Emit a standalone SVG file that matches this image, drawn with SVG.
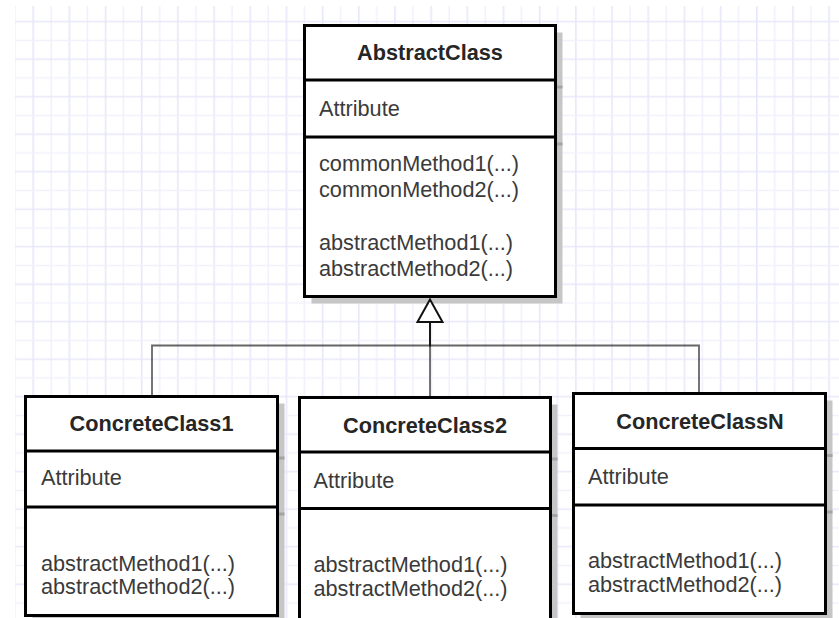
<svg xmlns="http://www.w3.org/2000/svg" width="839" height="618" viewBox="0 0 839 618">
  <defs>
    <!-- background grid: alternating light and slightly stronger lines -->
    <pattern id="grid" patternUnits="userSpaceOnUse" x="6" y="12.325" width="36.18" height="37.5">
      <line x1="9.045" y1="0" x2="9.045" y2="37.5" stroke="#f1f1fd" stroke-width="1.6"/>
      <line x1="27.135" y1="0" x2="27.135" y2="37.5" stroke="#e7e7fb" stroke-width="1.6"/>
      <line x1="0" y1="9.375" x2="36.18" y2="9.375" stroke="#e7e7fb" stroke-width="1.6"/>
      <line x1="0" y1="28.125" x2="36.18" y2="28.125" stroke="#f1f1fd" stroke-width="1.6"/>
    </pattern>
    <style>
      .box { fill: #ffffff; stroke: #000000; stroke-width: 3; }
      .divider { stroke: #000000; stroke-width: 3; }
      .shadow { fill: #c6c6c6; }
      .shadow-line { stroke: #a4a4a4; stroke-width: 3; }
      .title { font-family: "Liberation Sans", Arial, sans-serif; font-weight: bold; font-size: 21.7px; fill: #262626; text-anchor: middle; }
      .member { font-family: "Liberation Sans", Arial, sans-serif; font-size: 21.7px; fill: #3a3a3a; }
      .edge { fill: none; stroke: #000000; stroke-opacity: 0.6; stroke-width: 1.8; }
      .arrowhead { fill: #ffffff; stroke: #111111; stroke-width: 2; stroke-linejoin: miter; }
    </style>
  </defs>

  <rect width="839" height="618" fill="#ffffff"/>
  <rect x="15" y="6" width="824" height="612" fill="url(#grid)"/>

  <!-- AbstractClass -->
  <g id="abstract-class">
    <rect class="shadow" x="311.5" y="32.5" width="251" height="271"/>
    <line class="shadow-line" x1="555" y1="87" x2="562.5" y2="87"/>
    <line class="shadow-line" x1="555" y1="144" x2="562.5" y2="144"/>
    <rect class="box" x="304.5" y="25.5" width="251" height="271"/>
    <line class="divider" x1="304.5" y1="80" x2="555.5" y2="80"/>
    <line class="divider" x1="304.5" y1="137" x2="555.5" y2="137"/>
    <text class="title" x="430" y="60">AbstractClass</text>
    <text class="member" x="319" y="116">Attribute</text>
    <text class="member" x="319" y="171">commonMethod1(...)</text>
    <text class="member" x="319" y="197">commonMethod2(...)</text>
    <text class="member" x="319" y="250">abstractMethod1(...)</text>
    <text class="member" x="319" y="276">abstractMethod2(...)</text>
  </g>

  <!-- ConcreteClass1 -->
  <g id="concrete-class-1">
    <rect class="shadow" x="32.5" y="403.5" width="252" height="219"/>
    <line class="shadow-line" x1="277" y1="458" x2="284.5" y2="458"/>
    <line class="shadow-line" x1="277" y1="514" x2="284.5" y2="514"/>
    <rect class="box" x="25.5" y="396.5" width="252" height="219"/>
    <line class="divider" x1="25.5" y1="451" x2="277.5" y2="451"/>
    <line class="divider" x1="25.5" y1="507" x2="277.5" y2="507"/>
    <text class="title" x="151.5" y="431">ConcreteClass1</text>
    <text class="member" x="41" y="485">Attribute</text>
    <text class="member" x="41" y="571">abstractMethod1(...)</text>
    <text class="member" x="41" y="594">abstractMethod2(...)</text>
  </g>

  <!-- ConcreteClass2 -->
  <g id="concrete-class-2">
    <rect class="shadow" x="306.5" y="404.5" width="251" height="230"/>
    <line class="shadow-line" x1="550" y1="459" x2="557.5" y2="459"/>
    <line class="shadow-line" x1="550" y1="515.5" x2="557.5" y2="515.5"/>
    <rect class="box" x="299.5" y="397.5" width="251" height="230"/>
    <line class="divider" x1="299.5" y1="452" x2="550.5" y2="452"/>
    <line class="divider" x1="299.5" y1="508.5" x2="550.5" y2="508.5"/>
    <text class="title" x="425" y="432.5">ConcreteClass2</text>
    <text class="member" x="313.5" y="487.5">Attribute</text>
    <text class="member" x="313.5" y="572">abstractMethod1(...)</text>
    <text class="member" x="313.5" y="596">abstractMethod2(...)</text>
  </g>

  <!-- ConcreteClassN -->
  <g id="concrete-class-n">
    <rect class="shadow" x="580.5" y="400.5" width="252" height="220"/>
    <line class="shadow-line" x1="825" y1="455.5" x2="832.5" y2="455.5"/>
    <line class="shadow-line" x1="825" y1="512" x2="832.5" y2="512"/>
    <rect class="box" x="573.5" y="393.5" width="252" height="220"/>
    <line class="divider" x1="573.5" y1="448.5" x2="825.5" y2="448.5"/>
    <line class="divider" x1="573.5" y1="505" x2="825.5" y2="505"/>
    <text class="title" x="700" y="428.5">ConcreteClassN</text>
    <text class="member" x="588" y="483.5">Attribute</text>
    <text class="member" x="588" y="567.5">abstractMethod1(...)</text>
    <text class="member" x="588" y="591.5">abstractMethod2(...)</text>
  </g>

  <!-- generalization edges, merged into one hollow-triangle head -->
  <g id="connectors">
    <path class="edge" d="M152,395 V345.5 H430 V322"/>
    <path class="edge" d="M430,396 V322"/>
    <path class="edge" d="M699,393 V345.5 H430 V322"/>
    <polygon class="arrowhead" points="430,299.5 417.5,322 442.5,322"/>
  </g>
</svg>
